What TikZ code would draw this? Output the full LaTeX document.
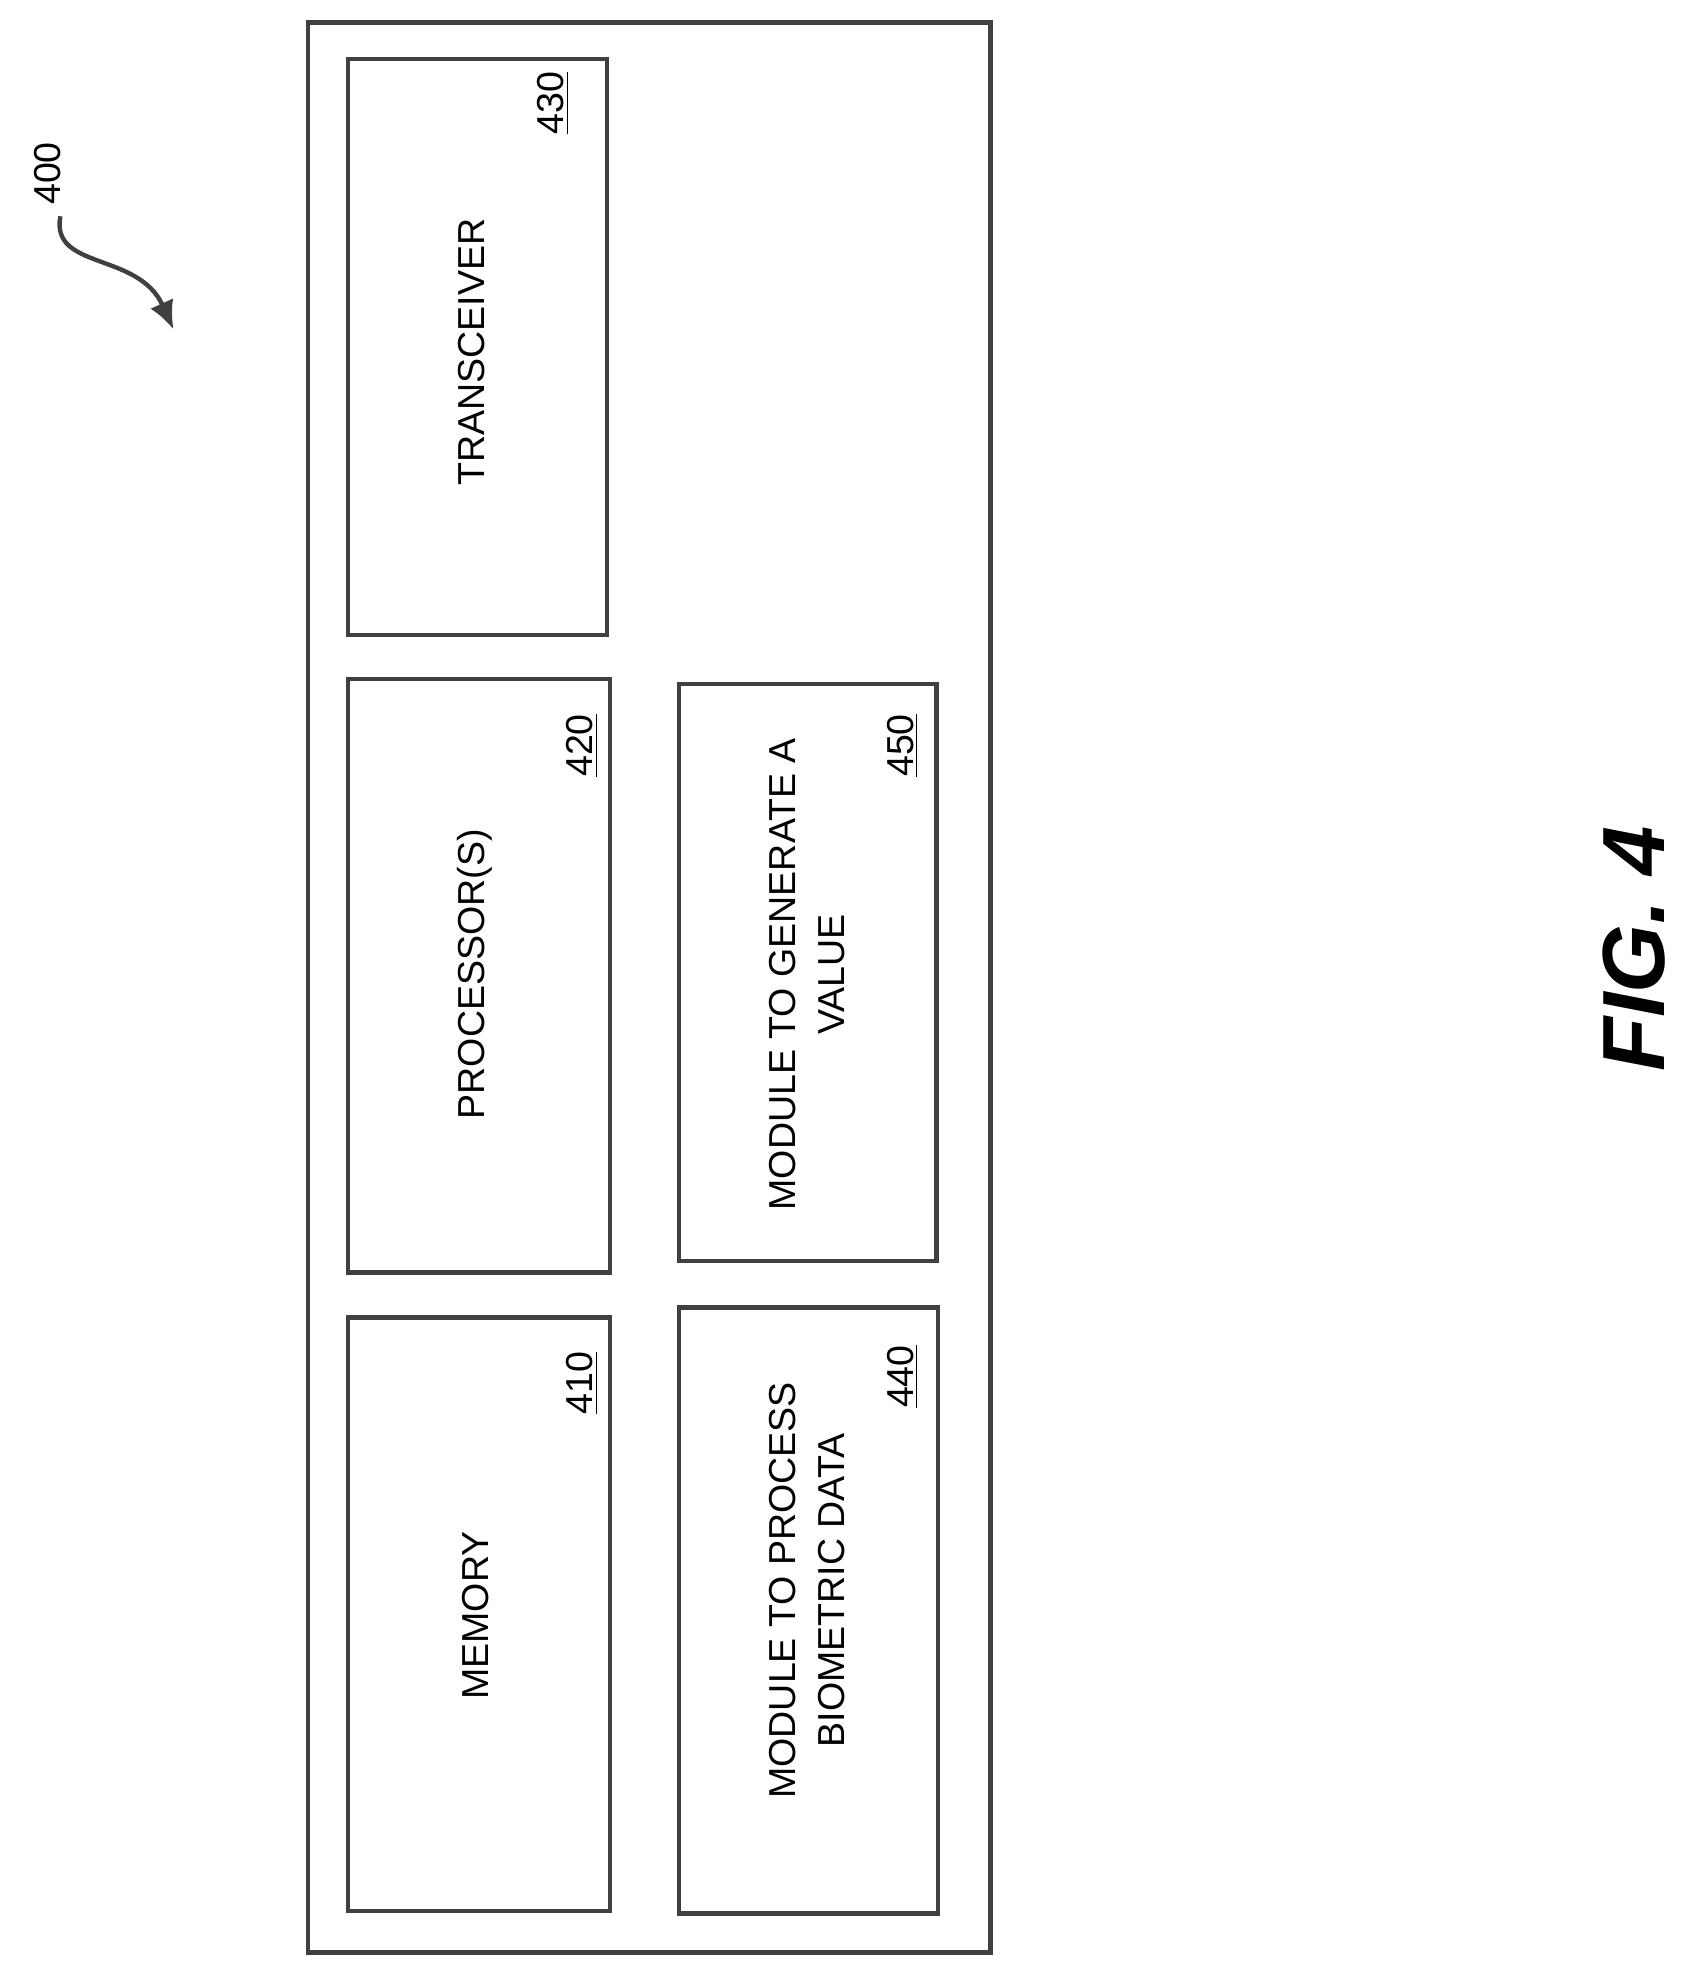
\documentclass[tikz,border=0pt]{standalone}
\usepackage{fontspec}
\setmainfont{Liberation Sans}
\usetikzlibrary{arrows.meta}
\begin{document}
\begin{tikzpicture}[x=0.02cm,y=-0.02cm,
 box/.style={draw=black!75,line width=0.07cm},
 lbl/.style={rotate=90,align=center,font=\fontsize{17}{22}\selectfont},
 num/.style={rotate=90,font=\fontsize{17}{22}\selectfont}]
\useasboundingbox (0,0) rectangle (1340,1563);
\draw[box] (245,18) rectangle (788,1553);
\draw[box] (277,47) rectangle (483,505);
\draw[box] (277,540) rectangle (485,1012);
\draw[box] (277,1048) rectangle (485,1520);
\draw[box] (540,544) rectangle (745,1003);
\draw[box] (540,1040) rectangle (746,1522);
\node[lbl] (t) at (375,280) {TRANSCEIVER};
\node[lbl] (p) at (378,775) {PROCESSOR(S)};
\node[lbl] (m) at (378,1285) {MEMORY};
\node[lbl] (g) at (642,775) {MODULE TO GENERATE A\\VALUE};
\node[lbl] (b) at (642,1265) {MODULE TO PROCESS\\BIOMETRIC DATA};
\node[num] (n430) at (440,82) {\underline{430}};
\node[num] (n420) at (463,593) {\underline{420}};
\node[num] (n410) at (463,1100) {\underline{410}};
\node[num] (n450) at (718,593) {\underline{450}};
\node[num] (n440) at (718,1095) {\underline{440}};
\node[num] (n400) at (38,138) {400};
\coordinate (s) at (48,172);
\coordinate (e) at (138,262);
\draw[line width=0.07cm,black!75,-{Latex[length=0.45cm,width=0.4cm]}] (s) .. controls (40,215) and (110,200) .. (e);
\node[rotate=90,font=\fontsize{40}{44}\selectfont\bfseries\itshape] (fig) at (1300,755) {FIG. 4};
\end{tikzpicture}
\end{document}
